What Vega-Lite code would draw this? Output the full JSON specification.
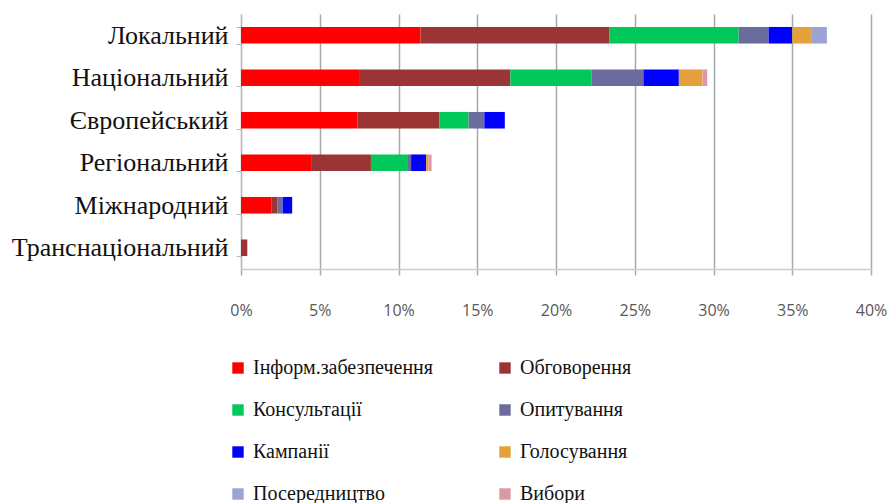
{
  "$schema": "https://vega.github.io/schema/vega-lite/v6.json",
  "autosize": "none",
  "width": 630,
  "height": 255,
  "padding": {"left": 241, "top": 14, "right": 24, "bottom": 234},
  "background": "white",
  "config": {"view": {"stroke": null}},
  "data": {
    "values": [
      {"cat": "Локальний", "type": "Інформ.забезпечення", "k": 1, "v": 11.4},
      {"cat": "Локальний", "type": "Обговорення", "k": 2, "v": 12.0},
      {"cat": "Локальний", "type": "Консультації", "k": 3, "v": 8.2},
      {"cat": "Локальний", "type": "Опитування", "k": 4, "v": 1.9},
      {"cat": "Локальний", "type": "Кампанії", "k": 5, "v": 1.5},
      {"cat": "Локальний", "type": "Голосування", "k": 6, "v": 1.2},
      {"cat": "Локальний", "type": "Посередництво", "k": 7, "v": 1.0},
      {"cat": "Національний", "type": "Інформ.забезпечення", "k": 1, "v": 7.55},
      {"cat": "Національний", "type": "Обговорення", "k": 2, "v": 9.55},
      {"cat": "Національний", "type": "Консультації", "k": 3, "v": 5.15},
      {"cat": "Національний", "type": "Опитування", "k": 4, "v": 3.3},
      {"cat": "Національний", "type": "Кампанії", "k": 5, "v": 2.25},
      {"cat": "Національний", "type": "Голосування", "k": 6, "v": 1.5},
      {"cat": "Національний", "type": "Вибори", "k": 8, "v": 0.3},
      {"cat": "Європейський", "type": "Інформ.забезпечення", "k": 1, "v": 7.4},
      {"cat": "Європейський", "type": "Обговорення", "k": 2, "v": 5.2},
      {"cat": "Європейський", "type": "Консультації", "k": 3, "v": 1.85},
      {"cat": "Європейський", "type": "Опитування", "k": 4, "v": 1.0},
      {"cat": "Європейський", "type": "Кампанії", "k": 5, "v": 1.3},
      {"cat": "Регіональний", "type": "Інформ.забезпечення", "k": 1, "v": 4.5},
      {"cat": "Регіональний", "type": "Обговорення", "k": 2, "v": 3.75},
      {"cat": "Регіональний", "type": "Консультації", "k": 3, "v": 2.3},
      {"cat": "Регіональний", "type": "Опитування", "k": 4, "v": 0.25},
      {"cat": "Регіональний", "type": "Кампанії", "k": 5, "v": 0.95},
      {"cat": "Регіональний", "type": "Голосування", "k": 6, "v": 0.15},
      {"cat": "Регіональний", "type": "Вибори", "k": 8, "v": 0.2},
      {"cat": "Міжнародний", "type": "Інформ.забезпечення", "k": 1, "v": 1.95},
      {"cat": "Міжнародний", "type": "Обговорення", "k": 2, "v": 0.35},
      {"cat": "Міжнародний", "type": "Опитування", "k": 4, "v": 0.35},
      {"cat": "Міжнародний", "type": "Кампанії", "k": 5, "v": 0.6},
      {"cat": "Транснаціональний", "type": "Обговорення", "k": 2, "v": 0.4}
    ]
  },
  "mark": {"type": "bar"},
  "encoding": {
    "y": {
      "field": "cat",
      "type": "nominal",
      "sort": ["Локальний", "Національний", "Європейський", "Регіональний", "Міжнародний", "Транснаціональний"],
      "scale": {"paddingInner": 0.61, "paddingOuter": 0.305},
      "axis": {
        "title": null,
        "tickBand": "extent",
        "domainColor": "#b8b8b8",
        "tickColor": "#b8b8b8",
        "tickSize": 5,
        "labelFont": "Liberation Serif",
        "labelFontSize": 26,
        "labelColor": "#111111",
        "labelPadding": 8,
        "labelLimit": 400
      }
    },
    "x": {
      "field": "v",
      "type": "quantitative",
      "stack": "zero",
      "scale": {"domain": [0, 40], "nice": false},
      "axis": {
        "title": null,
        "values": [0, 5, 10, 15, 20, 25, 30, 35, 40],
        "labelExpr": "datum.value + '%'",
        "labelFlush": false,
        "grid": true,
        "gridColor": "#a8a8a8",
        "gridWidth": 1.5,
        "tickColor": "#a8a8a8",
        "tickWidth": 1.5,
        "tickSize": 6,
        "domainColor": "#cccccc",
        "domainWidth": 1.5,
        "labelFont": "Open Sans",
        "labelFontSize": 16,
        "labelColor": "#595959",
        "labelPadding": 27
      }
    },
    "order": {"field": "k", "type": "quantitative"},
    "color": {
      "field": "type",
      "type": "nominal",
      "scale": {
        "domain": ["Інформ.забезпечення", "Обговорення", "Консультації", "Опитування", "Кампанії", "Голосування", "Посередництво", "Вибори"],
        "range": ["#ff0000", "#9b3434", "#00c85a", "#6b6b9e", "#0000ff", "#e4a03c", "#9aa3d3", "#d99aa3"]
      },
      "legend": {
        "title": null,
        "orient": "none",
        "legendX": -13,
        "legendY": 344,
        "direction": "horizontal",
        "columns": 2,
        "padding": 0,
        "columnPadding": 61,
        "rowPadding": 22,
        "symbolType": "square",
        "symbolSize": 130,
        "symbolStrokeWidth": 0,
        "labelOffset": 5,
        "labelFont": "Liberation Serif",
        "labelFontSize": 20,
        "labelColor": "#111111",
        "labelLimit": 400
      }
    }
  }
}
